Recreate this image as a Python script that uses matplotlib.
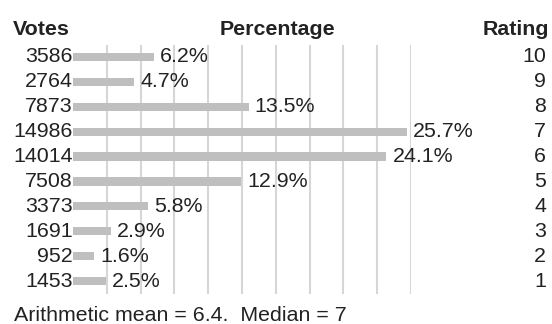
import matplotlib
matplotlib.use("Agg")
import matplotlib.pyplot as plt
from matplotlib.transforms import blended_transform_factory

ratings = [10, 9, 8, 7, 6, 5, 4, 3, 2, 1]
votes = [3586, 2764, 7873, 14986, 14014, 7508, 3373, 1691, 952, 1453]
percent = [6.2, 4.7, 13.5, 25.7, 24.1, 12.9, 5.8, 2.9, 1.6, 2.5]
grid_step = 2.6
mean_text = "Arithmetic mean = 6.4.  Median = 7"

W, H = 552, 324
DPI = 100
plt.rcParams['font.family'] = ['Liberation Sans', 'DejaVu Sans']
text_color = '#222222'
fs = 15.4

fig = plt.figure(figsize=(W / DPI, H / DPI), dpi=DPI)
fig.patch.set_facecolor('white')

# bar area in pixel terms: x 73..411, y 44.5..293.5 (from top)
left, right = 73, 411
top, bottom = 44.5, 293.5
ax = fig.add_axes([left / W, 1 - bottom / H, (right - left) / W, (bottom - top) / H])
ax.set_xlim(0, grid_step * 10)
ax.set_ylim(len(ratings) - 0.5, -0.5)
ax.axis('off')

for i in range(1, 11):
    ax.axvline(grid_step * i, color='#d6d6d6', lw=1.5, zorder=0)

ypos = list(range(len(ratings)))
ax.barh(ypos, percent, height=0.33, color='#bfbfbf', zorder=2)

trans_fig_x = blended_transform_factory(fig.transFigure, ax.transData)
for y, v, p, r in zip(ypos, votes, percent, ratings):
    ax.text(0, y, str(v), ha='right', va='center', fontsize=fs, color=text_color)
    ax.annotate(f"{p}%", xy=(p, y), xytext=(4.5, 0), textcoords='offset points',
                ha='left', va='center', fontsize=fs, color=text_color)
    ax.text(546 / W, y, str(r), transform=trans_fig_x, ha='right', va='center',
            fontsize=fs, color=text_color)

fig.text(13 / W, 1 - 35 / H, "Votes", ha='left', va='baseline', fontsize=fs,
         fontweight='bold', color=text_color)
fig.text(277 / W, 1 - 35 / H, "Percentage", ha='center', va='baseline', fontsize=fs,
         fontweight='bold', color=text_color)
fig.text(549 / W, 1 - 35 / H, "Rating", ha='right', va='baseline', fontsize=fs,
         fontweight='bold', color=text_color)
fig.text(14 / W, 1 - 321 / H, mean_text, ha='left', va='baseline', fontsize=fs,
         color=text_color)

fig.savefig("out.png", dpi=DPI, facecolor='white')
